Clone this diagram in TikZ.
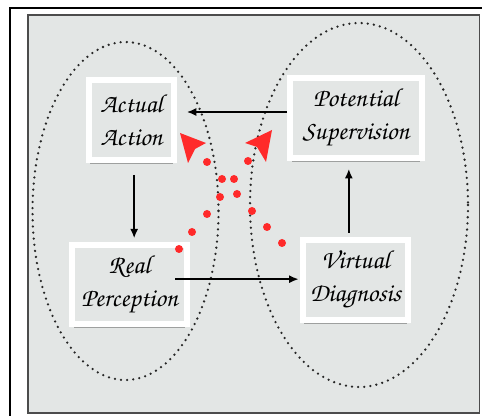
\documentclass[tikz,border=0pt]{standalone}
\usepackage[T1]{fontenc}
\usepackage{xcolor}
\usetikzlibrary{arrows.meta,shadows}
\definecolor{panelgray}{HTML}{E3E6E5}
\definecolor{hotred}{HTML}{FF2A2A}
\newcommand{\handtext}{\fontfamily{pzc}\fontsize{19.5}{25}\selectfont}

\begin{document}
\begin{tikzpicture}[x=0.75pt,y=-0.75pt,
                stage/.style = {draw=white, line width=4.5pt, fill=panelgray, align=center,
                                font=\handtext, inner sep=0pt,
                                drop shadow={shadow xshift=0pt, shadow yshift=-4pt, shadow scale=0.97, opacity=.3, fill=black}},
                flow/.style = {draw=black, line width=1.1pt, -{Latex[length=7pt,width=6pt]}},
                dotline/.style = {draw=black!85, line width=1.9pt, line cap=round, dash pattern=on 0pt off 4.6pt}]
                \useasboundingbox (0,0) rectangle (482,416);
                \draw[line width=2.2pt] (10,8) rectangle (500,430);
                \draw[fill=panelgray, draw=black!70, line width=0.8pt] (28,15) rectangle (479.5,413);
                % dotted groups
                \draw[dotline] (125.5,211) ellipse [x radius=93, y radius=169];
                \draw[dotline] (359,205) ellipse [x radius=109, y radius=182];
                % the four stages
                \node[stage, minimum width=63.75pt, minimum height=60pt] (actual) at (131.5,120) {Actual\\Action};
                \node[stage, minimum width=99pt, minimum height=60pt] (potential) at (356,118) {Potential\\Supervision};
                \node[stage, minimum width=86pt, minimum height=59pt] (real) at (129.5,284.5) {Real\\Perception};
                \node[stage, minimum width=79pt, minimum height=60pt] (virtual) at (355.5,280) {Virtual\\Diagnosis};
                % cycle
                \draw[flow, shorten >=7.5pt] ([yshift=4.5pt]potential.west) -- ([yshift=4.5pt]potential.west -| actual.east);
                \draw[flow, shorten <=9pt, shorten >=3pt] ([xshift=2pt]actual.south) -- ([xshift=2pt]actual.south |- real.north);
                \draw[flow, shorten <=-11pt, shorten >=1pt] ([yshift=4pt]real.east) -- ([yshift=4pt]real.east -| virtual.west);
                \draw[flow, shorten <=3pt, shorten >=6pt] ([xshift=-5pt]virtual.north) -- ([xshift=-5pt]virtual.north |- potential.south);
                % red trails
                \foreach \px/\py in {207/162, 222/179, 234/179, 220/197, 237/194, 207/214, 192/232, 179/249,
                                     248/161, 252/211, 267/227, 282/243}
                    \fill[hotred] (\px,\py) circle [radius=4];
                \fill[hotred] (180,133) -- (206,143) -- (195,149) -- (188,163) -- cycle;
                \fill[hotred] (272,130) -- (266,162) -- (257,147) -- (245,143) -- cycle;
            \end{tikzpicture}
\end{document}
